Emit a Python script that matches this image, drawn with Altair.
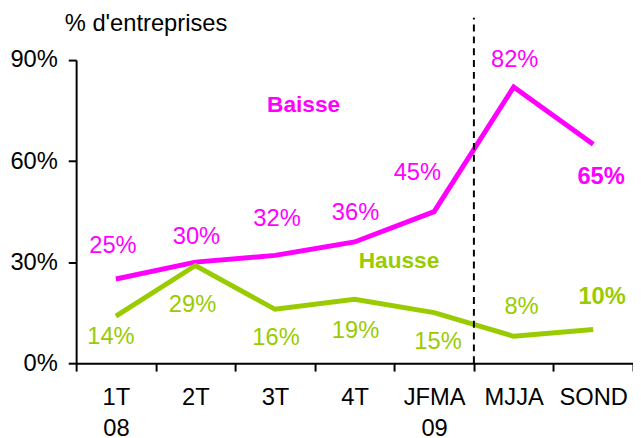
import altair as alt
import pandas as pd

categories = ["1T\n08", "2T", "3T", "4T", "JFMA\n09", "MJJA", "SOND"]
baisse = [25, 30, 32, 36, 45, 82, 65]
hausse = [14, 29, 16, 19, 15, 8, 10]

# label nudges in pixels (annotation layout)
baisse_dx = [-3, 1, 2, 1, -17, 1, 8]
baisse_dy = [-33, -25, -37, -29, -39, -27, 33]
hausse_dx = [-5, -3, 1, 1, 4, 8, 9]
hausse_dy = [21, 40, 29, 32, 30, -30, -33]

series_names = ["Baisse", "Hausse"]
series_colors = ["#FF00FF", "#99CC00"]

W, H = 564, 307
YMAX = 90
PX = YMAX / H  # data units per pixel
BW = W / len(categories)

rows = []
for s, vals, dxs, dys in [("Baisse", baisse, baisse_dx, baisse_dy),
                          ("Hausse", hausse, hausse_dx, hausse_dy)]:
    for c, v, dx, dy in zip(categories, vals, dxs, dys):
        rows.append({"cat": c, "series": s, "value": v, "dx": dx, "dy": dy,
                     "label": f"{v}%"})
df = pd.DataFrame(rows)

# series name annotations: anchor category, pixel nudge, value
names_df = pd.DataFrame({
    "cat": ["3T", "4T"],
    "series": series_names,
    "dx": [29, 45],
    "yv": [76.5, 30.2],
})

divider_df = pd.DataFrame({"cat": ["MJJA"], "y0": [0], "y1": [102.6]})

FONT = "Liberation Sans, Arial, Helvetica, sans-serif"
FS = 24

x_enc = alt.X("cat:N", sort=categories,
              scale=alt.Scale(paddingInner=0, paddingOuter=0),
              axis=alt.Axis(title=None, tickBand="extent", labelAngle=0,
                            labelExpr="isValid(datum.value) ? split(datum.value, '\\n') : ''",
                            labelLineHeight=31, labelPadding=15,
                            labelFontSize=FS, labelColor="black",
                            domainColor="black", domainWidth=2,
                            tickColor="black", tickWidth=2, tickSize=8))
y_scale = alt.Scale(domain=[0, YMAX], nice=False)
color_scale = alt.Scale(domain=series_names, range=series_colors)

lines = alt.Chart(df).mark_line(strokeWidth=5, clip=False).encode(
    x=x_enc,
    y=alt.Y("value:Q", scale=y_scale,
            axis=alt.Axis(values=[0, 30, 60, 90], labelExpr="datum.value + '%'",
                          grid=False, labelFontSize=FS, labelColor="black",
                          labelPadding=11, domainColor="black", domainWidth=2,
                          tickColor="black", tickWidth=2, tickSize=8,
                          title="% d'entreprises", titleAngle=0, titleAlign="left",
                          titleBaseline="middle", titleX=-12, titleY=-37,
                          titleFontSize=FS, titleFontWeight="normal",
                          titleColor="black")),
    color=alt.Color("series:N", scale=color_scale, legend=None),
)

divider = alt.Chart(divider_df).mark_rule(
    color="black", strokeWidth=2, strokeDash=[7, 5], clip=False
).encode(
    x=alt.X("cat:N", sort=categories, bandPosition=0),
    y=alt.Y("y0:Q", scale=y_scale),
    y2="y1:Q",
)

off_scale = alt.Scale(domain=[-BW / 2, BW / 2])

labels_base = alt.Chart(df).transform_calculate(
    ly=f"datum.value - datum.dy * {PX}"
)

labels_normal = labels_base.transform_filter("datum.cat != 'SOND'").mark_text(
    fontSize=FS, font=FONT, baseline="middle", align="center"
).encode(
    x=alt.X("cat:N", sort=categories),
    xOffset=alt.XOffset("dx:Q", scale=off_scale),
    y=alt.Y("ly:Q", scale=y_scale),
    text="label:N",
    color=alt.Color("series:N", scale=color_scale, legend=None),
)

labels_bold = labels_base.transform_filter("datum.cat == 'SOND'").mark_text(
    fontSize=FS, font=FONT, fontWeight="bold", baseline="middle", align="center"
).encode(
    x=alt.X("cat:N", sort=categories),
    xOffset=alt.XOffset("dx:Q", scale=off_scale),
    y=alt.Y("ly:Q", scale=y_scale),
    text="label:N",
    color=alt.Color("series:N", scale=color_scale, legend=None),
)

names = alt.Chart(names_df).mark_text(
    fontSize=23, font=FONT, fontWeight="bold", baseline="middle", align="center"
).encode(
    x=alt.X("cat:N", sort=categories),
    xOffset=alt.XOffset("dx:Q", scale=off_scale),
    y=alt.Y("yv:Q", scale=y_scale),
    text="series:N",
    color=alt.Color("series:N", scale=color_scale, legend=None),
)

chart = alt.layer(lines, divider, labels_normal, labels_bold, names).properties(
    width=W, height=H,
    autosize=alt.AutoSizeParams(type="none"),
    padding={"left": 69, "top": 50, "right": 0, "bottom": 72},
).configure(font=FONT).configure_view(stroke=None)

chart.save("out.html", embed_options={"renderer": "svg", "actions": False})
